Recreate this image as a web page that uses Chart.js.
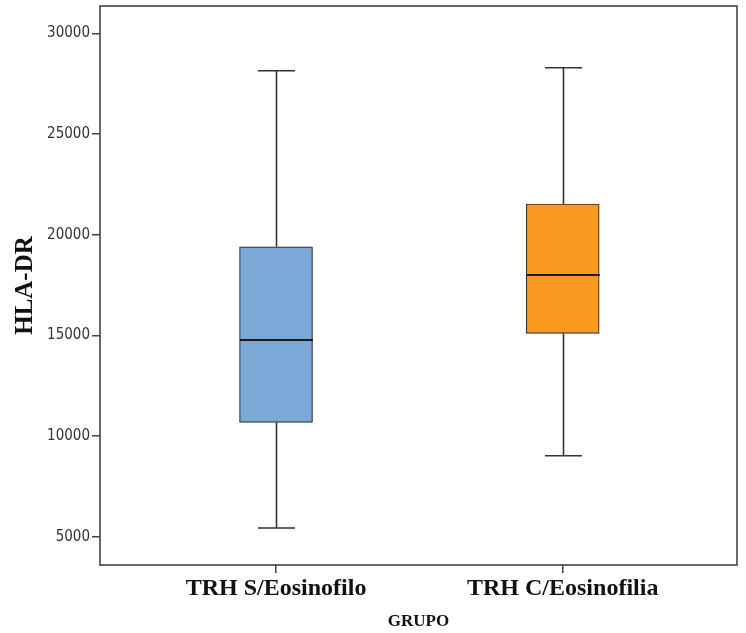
<!DOCTYPE html>
<html>
<head>
<meta charset="utf-8">
<script src="https://cdn.jsdelivr.net/npm/chart.js@4.4.1/dist/chart.umd.min.js"></script>
<style>
  html, body { margin: 0; padding: 0; background: #fff; }
  #wrap { width: 746px; height: 633px; }
</style>
</head>
<body>
<div id="wrap"><canvas id="grafica"></canvas></div>
<script>
// Datos del diagrama de cajas
const categories = ['TRH S/Eosinofilo', 'TRH C/Eosinofilia'];
const whiskerLow = [5430, 9020];
const q1 = [10680, 15100];
const median = [14770, 18000];
const q3 = [19400, 21530];
const whiskerHigh = [28150, 28300];
const yTicks = [5000, 10000, 15000, 20000, 25000, 30000];
const boxColors = ['#7BA8D6', '#F89A1F'];

const serif = "'Liberation Serif', 'Times New Roman', serif";
const narrow = "'Liberation Sans Narrow', 'DejaVu Sans Condensed', 'Liberation Sans', sans-serif";

// Bigotes, medianas y marco del área
const boxPlugin = {
    id: 'boxPlugin',
    afterDatasetsDraw(chart) {
        const { ctx, chartArea, scales: { x, y } } = chart;
        ctx.save();
        ctx.strokeStyle = '#333';
        for (let i = 0; i < categories.length; i++) {
            const cx = Math.round(x.getPixelForValue(i + 1)) + 0.5;
            ctx.lineWidth = 1.6;
            ctx.beginPath();
            ctx.moveTo(cx, y.getPixelForValue(q3[i]));
            ctx.lineTo(cx, y.getPixelForValue(whiskerHigh[i]));
            ctx.moveTo(cx, y.getPixelForValue(q1[i]));
            ctx.lineTo(cx, y.getPixelForValue(whiskerLow[i]));
            // remates
            ctx.moveTo(cx - 18.5, y.getPixelForValue(whiskerHigh[i]));
            ctx.lineTo(cx + 18.5, y.getPixelForValue(whiskerHigh[i]));
            ctx.moveTo(cx - 18.5, y.getPixelForValue(whiskerLow[i]));
            ctx.lineTo(cx + 18.5, y.getPixelForValue(whiskerLow[i]));
            ctx.stroke();
            // mediana
            ctx.lineWidth = 2;
            ctx.strokeStyle = '#1a1a1a';
            ctx.beginPath();
            ctx.moveTo(cx - 36.5, y.getPixelForValue(median[i]));
            ctx.lineTo(cx + 36.5, y.getPixelForValue(median[i]));
            ctx.stroke();
            ctx.strokeStyle = '#333';
        }
        ctx.lineWidth = 1.6;
        ctx.strokeStyle = '#444';
        ctx.strokeRect(chartArea.left, chartArea.top,
            chartArea.right - chartArea.left, chartArea.bottom - chartArea.top);
        ctx.restore();
    }
};

const ctx = document.getElementById('grafica').getContext('2d');
new Chart(ctx, {
    type: 'bar',
    data: {
        datasets: [{
            data: categories.map((c, i) => ({ x: i + 1, y: [q1[i], q3[i]] })),
            backgroundColor: boxColors,
            borderColor: '#333',
            borderWidth: 1.2,
            borderSkipped: false,
            barThickness: 73
        }]
    },
    options: {
        responsive: true,
        maintainAspectRatio: false,
        animation: false,
        layout: { padding: { top: 6, right: 9, left: 0, bottom: 0 } },
        plugins: {
            legend: { display: false },
            tooltip: { enabled: false }
        },
        scales: {
            x: {
                type: 'linear',
                offset: false,
                min: 0.386,
                max: 2.608,
                afterBuildTicks: axis => { axis.ticks = categories.map((c, i) => ({ value: i + 1 })); },
                afterFit: axis => { axis.height = 68; axis.paddingLeft = 0; axis.paddingRight = 0; },
                ticks: {
                    callback: v => categories[v - 1] || '',
                    font: { family: serif, size: 24, weight: 'bold' },
                    color: '#111',
                    padding: 1,
                    maxRotation: 0
                },
                grid: { offset: false, drawOnChartArea: false, drawTicks: true, tickLength: 8, color: '#444', lineWidth: 1.5 },
                border: { display: false },
                title: {
                    display: true,
                    text: 'GRUPO',
                    font: { family: serif, size: 17, weight: 'bold' },
                    color: '#111',
                    padding: { top: 0, bottom: 1 }
                }
            },
            y: {
                min: 3594,
                max: 31366,
                afterBuildTicks: axis => { axis.ticks = yTicks.map(v => ({ value: v })); },
                afterFit: axis => { axis.width = 100; axis.paddingTop = 0; axis.paddingBottom = 0; },
                ticks: {
                    callback: v => String(v),
                    font: { family: narrow, size: 15 },
                    color: '#333',
                    padding: 2
                },
                grid: { drawOnChartArea: false, drawTicks: true, tickLength: 8, color: '#444', lineWidth: 1.5 },
                border: { display: false },
                title: {
                    display: true,
                    text: 'HLA-DR',
                    font: { family: serif, size: 25, weight: 'bold' },
                    color: '#111',
                    padding: { top: 11, bottom: 0 }
                }
            }
        }
    },
    plugins: [boxPlugin]
});
</script>
</body>
</html>
